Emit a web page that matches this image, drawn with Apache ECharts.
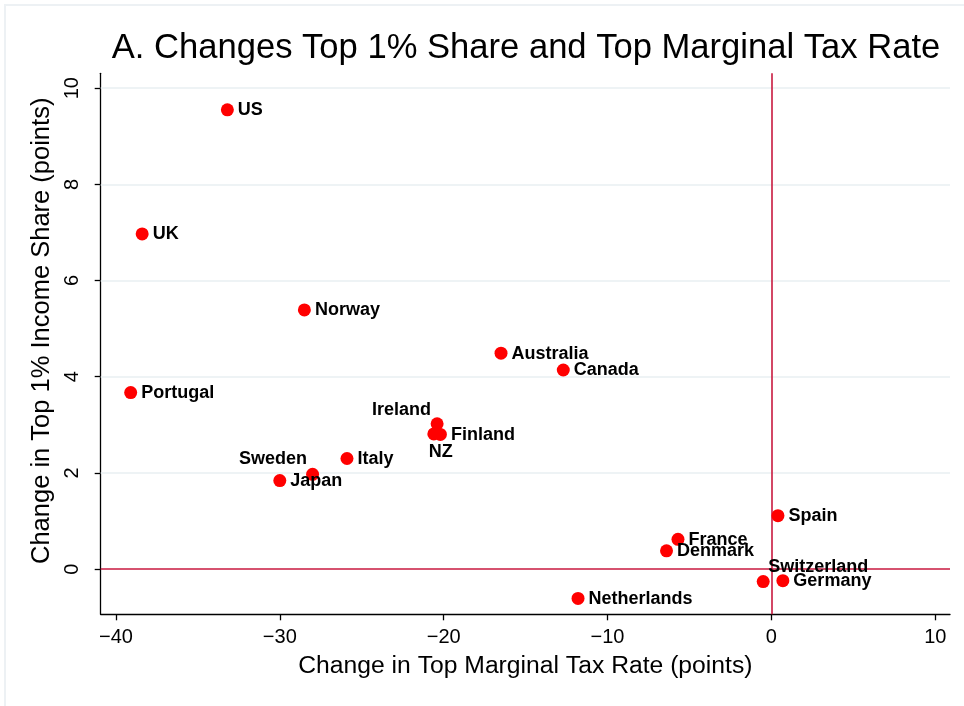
<!DOCTYPE html>
<html>
<head>
<meta charset="utf-8">
<script src="https://cdn.jsdelivr.net/npm/echarts@6/dist/echarts.min.js"></script>
<style>
html,body{margin:0;padding:0;background:#fff;}
#chart{width:964px;height:706px;}
</style>
</head>
<body>
<div id="chart"></div>
<script>
// ---- data ----
const countries = ['US','UK','Norway','Portugal','Australia','Canada','Ireland','Finland','NZ','Italy','Sweden','Japan','Spain','France','Denmark','Switzerland','Germany','Netherlands'];
const taxRateChange = [-33.2,-38.4,-28.5,-39.1,-16.5,-12.7,-20.4,-20.2,-20.6,-25.9,-28.0,-30.0,0.4,-5.7,-6.4,-0.5,0.7,-11.8];
const top1ShareChange = [9.55,6.97,5.39,3.67,4.49,4.14,3.02,2.80,2.81,2.30,1.97,1.84,1.11,0.62,0.38,-0.26,-0.24,-0.61];
const xTicks = [-40,-30,-20,-10,0,10];
const yTicks = [0,2,4,6,8,10];

const titleText = 'A. Changes Top 1% Share and Top Marginal Tax Rate';
const xTitle = 'Change in Top Marginal Tax Rate (points)';
const yTitle = 'Change in Top 1% Income Share (points)';

// ---- label placement (layout only) ----
const SYM = 13;
const defaultLabelPos = {position:[17,7], align:'left'};
const labelPlacement = {
  'Ireland': {position:[0.5,-7.5], align:'right'},
  'Sweden': {position:[0.9,-8.5], align:'right'},
  'NZ': {position:[1.5,24.5], align:'left'},
  'Switzerland': {position:[11.5,-8.5], align:'left'}
};

const FONT = "'Liberation Sans', Arial, Helvetica, sans-serif";
const seriesData = countries.map((c,i) => {
  const p = labelPlacement[c] || defaultLabelPos;
  return {
    name: c,
    value: [taxRateChange[i], top1ShareChange[i]],
    label: {position: p.position, align: p.align, verticalAlign: 'middle'}
  };
});

const chart = echarts.init(document.getElementById('chart'), null, {renderer:'canvas'});
const option = {
  animation: false,
  backgroundColor: '#ffffff',
  textStyle: {fontFamily: FONT},
  title: {
    text: titleText,
    left: 526, top: 31, textAlign: 'center', padding: 0,
    textStyle: {fontFamily: FONT, fontSize: 34.6, fontWeight: 'normal', color: '#000'}
  },
  graphic: [{
    type: 'rect', silent: true, z: -10,
    shape: {x: 5, y: 5, width: 2000, height: 2000},
    style: {fill: null, stroke: '#edf1f4', lineWidth: 2}
  }],
  grid: {left: 100.7, right: 14, top: 73.3, bottom: 91.7, containLabel: false, outerBoundsMode: 'none'},
  xAxis: {
    type: 'value', min: -40.93, max: 10.9,
    name: xTitle, nameLocation: 'middle', nameGap: 39,
    nameTextStyle: {fontFamily: FONT, fontSize: 24.7, color: '#000'},
    axisLine: {show: true, onZero: false, lineStyle: {color: '#000', width: 1.3}},
    axisTick: {show: true, customValues: xTicks, length: 6, lineStyle: {color: '#000', width: 1.3}},
    axisLabel: {customValues: xTicks, margin: 13, fontFamily: FONT, fontSize: 20, color: '#000',
      formatter: v => String(v).replace('-', '\u2212')},
    splitLine: {show: false}
  },
  yAxis: {
    type: 'value', min: -0.94, max: 10.31,
    name: yTitle, nameLocation: 'middle', nameGap: 45, nameRotate: 90,
    nameTextStyle: {fontFamily: FONT, fontSize: 25.5, color: '#000', padding: [0,0,0,26]},
    axisLine: {show: true, onZero: false, lineStyle: {color: '#000', width: 1.3}},
    axisTick: {show: true, customValues: yTicks, length: 6, lineStyle: {color: '#000', width: 1.3}},
    axisLabel: {customValues: yTicks, rotate: 90, margin: 18, fontFamily: FONT, fontSize: 20, color: '#000'},
    splitLine: {show: false}
  },
  series: [
    {
      type: 'line', data: [], z: 1, silent: true,
      markLine: {
        silent: true, symbol: 'none', label: {show: false}, animation: false,
        lineStyle: {type: 'solid', color: '#e9eff2', width: 1.6},
        data: yTicks.filter(v => v !== 0).map(v => ({yAxis: v}))
      }
    },
    {
      type: 'line', data: [], z: 2, silent: true,
      markLine: {
        silent: true, symbol: 'none', label: {show: false}, animation: false,
        lineStyle: {type: 'solid', color: '#c8193f', width: 1.6},
        data: [{yAxis: 0}, {xAxis: 0}]
      }
    },
    {
      type: 'scatter', z: 5,
      symbol: 'circle', symbolSize: SYM,
      itemStyle: {color: '#ff0000', opacity: 1},
      label: {
        show: true, formatter: '{b}',
        fontFamily: FONT, fontSize: 18, fontWeight: 'bold', color: '#000'
      },
      labelLayout: {hideOverlap: false},
      data: seriesData
    }
  ]
};
chart.setOption(option);
</script>
</body>
</html>
